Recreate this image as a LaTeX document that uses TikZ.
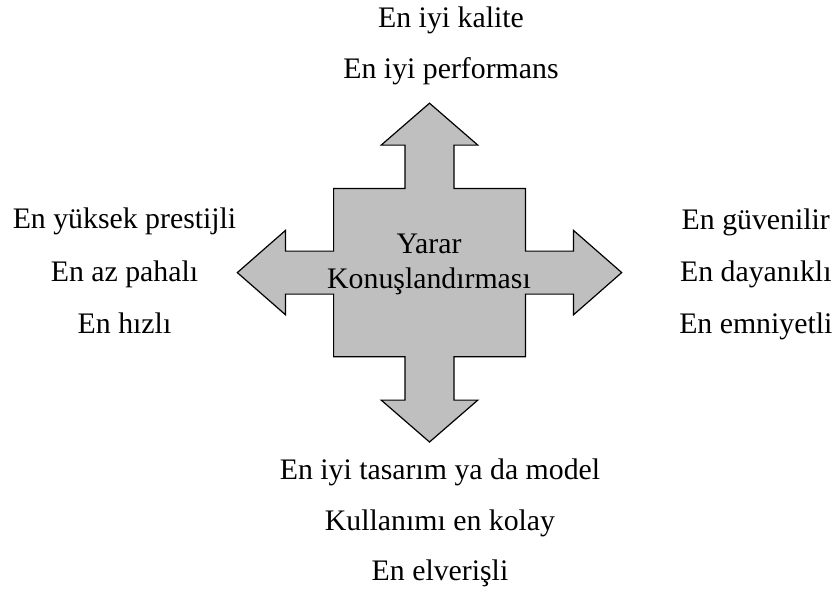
\documentclass[tikz,border=0pt]{standalone}
\usepackage{fontspec}
\setmainfont{Liberation Serif}
\begin{document}
\begin{tikzpicture}[x=1pt,y=-1pt,
  label/.style={anchor=base,inner sep=0pt,font=\fontsize{29.8}{36}\selectfont},
  crossshape/.style={draw=black,line width=1.2pt,fill=gray!50!white,line join=miter}]
\useasboundingbox (0,0) rectangle (837,591);
% four-way arrow around a central square
\draw[crossshape]
  (429.5,103.2) -- (477.8,145.1) -- (454,145.1) -- (454,188.4) -- (525.4,188.4)
  -- (525.4,251.1) -- (573.5,251.1) -- (573.5,230.4) -- (621.7,272.6)
  -- (573.5,314.8) -- (573.5,294.1) -- (525.4,294.1) -- (525.4,356.8)
  -- (454,356.8) -- (454,400.1) -- (477.8,400.1) -- (429.5,442)
  -- (381.2,400.1) -- (405,400.1) -- (405,356.8) -- (333.6,356.8)
  -- (333.6,294.1) -- (285.5,294.1) -- (285.5,314.8) -- (237.3,272.6)
  -- (285.5,230.4) -- (285.5,251.1) -- (333.6,251.1) -- (333.6,188.4)
  -- (405,188.4) -- (405,145.1) -- (381.2,145.1) -- cycle;
% centre label
\node[label] (c1) at (429,253.3) {Yarar};
\node[label] (c2) at (429,288.3) {Konuşlandırması};
% top
\node[label] (t1) at (451,27.3) {En iyi kalite};
\node[label] (t2) at (451,79) {En iyi performans};
% left
\node[label] (l1) at (124.5,228.3) {En yüksek prestijli};
\node[label] (l2) at (124.5,281.7) {En az pahalı};
\node[label] (l3) at (124.5,333.5) {En hızlı};
% right
\node[label] (r1) at (755.8,229.3) {En güvenilir};
\node[label] (r2) at (755.8,281.7) {En dayanıklı};
\node[label] (r3) at (755.8,333.5) {En emniyetli};
% bottom
\node[label] (b1) at (440,479.3) {En iyi tasarım ya da model};
\node[label] (b2) at (440,530.7) {Kullanımı en kolay};
\node[label] (b3) at (440,580.7) {En elverişli};
\end{tikzpicture}
\end{document}
